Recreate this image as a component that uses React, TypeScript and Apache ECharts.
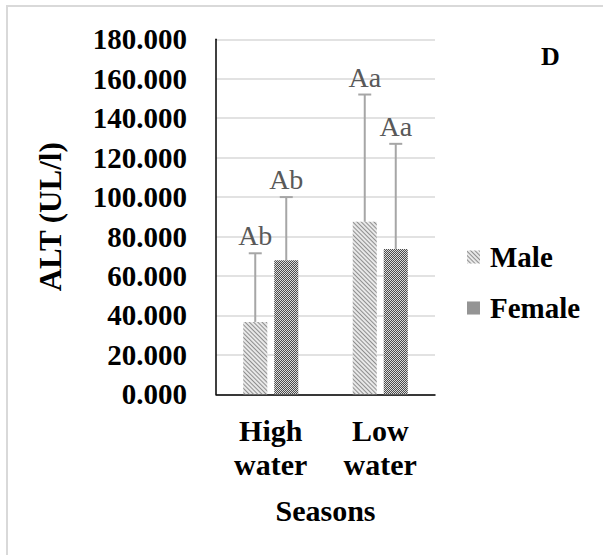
import React, { useEffect, useRef } from "react";
import * as echarts from "echarts";

const categories = ["High\nwater", "Low\nwater"];
const maleValues = [36.7, 87.5];
const femaleValues = [68.0, 73.7];
const maleErrors = [34.8, 64.5];
const femaleErrors = [32.0, 53.3];
const maleLetters = ["Ab", "Aa"];
const femaleLetters = ["Ab", "Aa"];
const yTicks = { min: 0, max: 180, interval: 20 };

const FONT = "Liberation Serif";
const BAR_W = 24;
const BAR_GAP_PX = 7;

export default function App() {
  const ref = useRef<HTMLDivElement>(null);
  useEffect(() => {
    if (!ref.current) return;
    const chart = echarts.init(ref.current, null, { renderer: "svg" });
    const errData: any[] = [];
    maleValues.forEach((v, i) => errData.push([i, v, maleErrors[i], maleLetters[i], 0]));
    femaleValues.forEach((v, i) => errData.push([i, v, femaleErrors[i], femaleLetters[i], 1]));
    const offset = BAR_W / 2 + BAR_GAP_PX / 2;
    const option: any = {
      animation: false,
      backgroundColor: "#ffffff",
      textStyle: { fontFamily: FONT },
      grid: { left: 216, right: 168, top: 39.3, bottom: 160.7, containLabel: false },
      legend: {
        orient: "vertical",
        left: 462,
        top: 237,
        itemWidth: 13,
        itemHeight: 13,
        itemGap: 21,
        icon: "rect",
        data: ["Male", "Female"],
        textStyle: {
          fontFamily: FONT,
          fontWeight: "bold",
          fontSize: 29,
          color: "#000",
          lineHeight: 30,
          padding: [0, 0, 0, 5],
        },
      },
      xAxis: {
        type: "category",
        data: categories,
        axisLine: { lineStyle: { color: "#000", width: 1.5 } },
        axisTick: { show: false },
        axisLabel: {
          fontFamily: FONT,
          fontWeight: "bold",
          fontSize: 30,
          color: "#000",
          lineHeight: 34,
          margin: 19,
        },
        name: "Seasons",
        nameLocation: "middle",
        nameGap: 101,
        nameTextStyle: { fontFamily: FONT, fontWeight: "bold", fontSize: 30, color: "#000" },
      },
      yAxis: {
        type: "value",
        min: yTicks.min,
        max: yTicks.max,
        interval: yTicks.interval,
        axisLine: { show: true, lineStyle: { color: "#000", width: 1.5 } },
        axisTick: { show: false },
        splitLine: { lineStyle: { color: "#d9d9d9", width: 1.5 } },
        axisLabel: {
          fontFamily: FONT,
          fontWeight: "bold",
          fontSize: 29,
          color: "#000",
          margin: 29,
          formatter: (v: number) => v.toFixed(3),
        },
        name: "ALT (UL/l)",
        nameLocation: "middle",
        nameGap: 150,
        nameTextStyle: { fontFamily: FONT, fontWeight: "bold", fontSize: 31, color: "#000" },
      },
      series: [
        {
          name: "Male",
          type: "bar",
          data: maleValues,
          barWidth: BAR_W,
          barGap: (BAR_GAP_PX / BAR_W) * 100 + "%",
          itemStyle: {
            color: "#e8e8e8",
            decal: {
              symbol: "rect",
              symbolSize: 1,
              color: "#8f8f8f",
              dashArrayX: [1, 0],
              dashArrayY: [1, 2],
              rotation: Math.PI / 4,
            },
          },
        },
        {
          name: "Female",
          type: "bar",
          data: femaleValues,
          barWidth: BAR_W,
          itemStyle: {
            color: "#dcdcdc",
            decal: {
              symbol: "rect",
              symbolSize: 0.9,
              color: "#3c3c3c",
              dashArrayX: [[1, 1], [0, 1, 1, 0]],
              dashArrayY: [1, 0],
              rotation: 0,
            },
          },
        },
        {
          type: "custom",
          data: errData,
          z: 10,
          renderItem: (params: any, api: any) => {
            const cat = api.value(0);
            const v = api.value(1);
            const e = api.value(2);
            const sIdx = api.value(4);
            const letter = errData[params.dataIndex][3];
            const base = api.coord([cat, v]);
            const top = api.coord([cat, v + e]);
            const x = base[0] + (sIdx === 0 ? -offset : offset);
            const style = { stroke: "#a6a6a6", lineWidth: 2 };
            return {
              type: "group",
              children: [
                { type: "line", shape: { x1: x, y1: base[1], x2: x, y2: top[1] }, style },
                { type: "line", shape: { x1: x - 6.5, y1: top[1], x2: x + 6.5, y2: top[1] }, style },
                {
                  type: "text",
                  x: x,
                  y: top[1] - 3.5,
                  style: {
                    text: letter,
                    fill: "#595959",
                    fontFamily: FONT,
                    fontSize: 28,
                    align: "center",
                    verticalAlign: "bottom",
                  },
                },
              ],
            };
          },
        },
      ],
      graphic: [
        {
          type: "rect",
          shape: { x: 7, y: 6, width: 800, height: 800 },
          style: { fill: "none", stroke: "#d9d9d9", lineWidth: 2 },
          silent: true,
        },
        {
          type: "text",
          left: 541,
          top: 43,
          style: { text: "D", fontFamily: FONT, fontWeight: "bold", fontSize: 26, fill: "#000" },
        },
      ],
    };
    chart.setOption(option);
    return () => chart.dispose();
  }, []);
  return (
    <div
      ref={ref}
      style={{ position: "fixed", left: 0, top: 0, width: 603, height: 555, background: "#fff" }}
    />
  );
}
